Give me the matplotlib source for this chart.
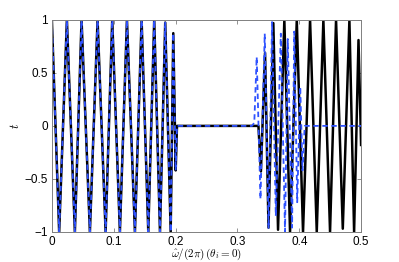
import matplotlib
matplotlib.use("Agg")
import matplotlib.pyplot as plt

# shared part (0 .. 0.2) - both curves coincide
x_head = [0.0, 0.0118, 0.0243, 0.0372, 0.0480, 0.0615, 0.0739, 0.0869, 0.0976, 0.110,
          0.1214, 0.1343, 0.1451, 0.1559, 0.1655, 0.1748, 0.1833, 0.1921, 0.1963, 0.2002, 0.2023]
t_head = [1, -1, 1, -1, 1, -1, 1, -1, 1, -1,
          1, -1, 1, -1, 1, -1, 0.975, -1, 0.875, -0.42, 0.0]

# black (solid) tail
x_black = [0.334, 0.338, 0.3447, 0.3503, 0.3581, 0.3657, 0.3759, 0.3851, 0.3960, 0.4061,
           0.4175, 0.4283, 0.4390, 0.4498, 0.4595, 0.4704, 0.4811, 0.4887, 0.4958, 0.5]
t_black = [0.0, -0.43, 0.69, -0.96, 0.97, -0.98, 1.0, -1, 1, -1,
           1, -1, 1, -1, 1, -0.97, 1, -1, 0.81, -0.18]

# blue (dashed) tail
x_blue = [0.3236, 0.3273, 0.3312, 0.3373, 0.3442, 0.3504, 0.3560, 0.3621, 0.3702, 0.3770,
          0.3814, 0.3884, 0.3919, 0.3967, 0.4016, 0.4053, 0.4088, 0.5]
t_blue = [0.0, 0.03, 0.65, -0.69, 0.87, -0.97, 0.98, -0.85, 0.87, -1.0,
          0.82, -0.96, 0.89, -0.72, 0.37, -0.42, 0.0, 0.0]

plt.rcParams['mathtext.fontset'] = 'cm'
plt.rcParams['font.family'] = ['Liberation Sans', 'DejaVu Sans']
plt.rcParams['axes.unicode_minus'] = True

fig = plt.figure(figsize=(3.99, 2.62), dpi=100)
ax = fig.add_axes([0.130, 0.115, 0.775, 0.809])

ax.plot(x_head + x_black, t_head + t_black, color='black', lw=1.8)
ax.plot(x_head + x_blue, t_head + t_blue, color='#2f52ff', lw=1.3, ls='--', dashes=(3.0, 2.0))

ax.set_xlim(0, 0.5)
ax.set_ylim(-1, 1)
ax.set_xticks([0, 0.1, 0.2, 0.3, 0.4, 0.5])
ax.set_xticklabels(['0', '0.1', '0.2', '0.3', '0.4', '0.5'])
ax.set_yticks([-1, -0.5, 0, 0.5, 1])
ax.set_yticklabels(['\u22121', '\u22120.5', '0', '0.5', '1'])
ax.tick_params(direction='in', top=True, right=True, length=3, width=0.6,
               color='#808080', labelsize=8.5, pad=3)
for s in ax.spines.values():
    s.set_color('#808080')
    s.set_linewidth(0.7)

ax.set_xlabel(r'$\hat{\omega}/(2\pi)\,(\theta_i = 0)$', fontsize=8)
ax.xaxis.set_label_coords(0.5, -0.072)
ax.set_ylabel(r'$t$', fontsize=9, labelpad=2)

fig.savefig('out.png', dpi=100)
